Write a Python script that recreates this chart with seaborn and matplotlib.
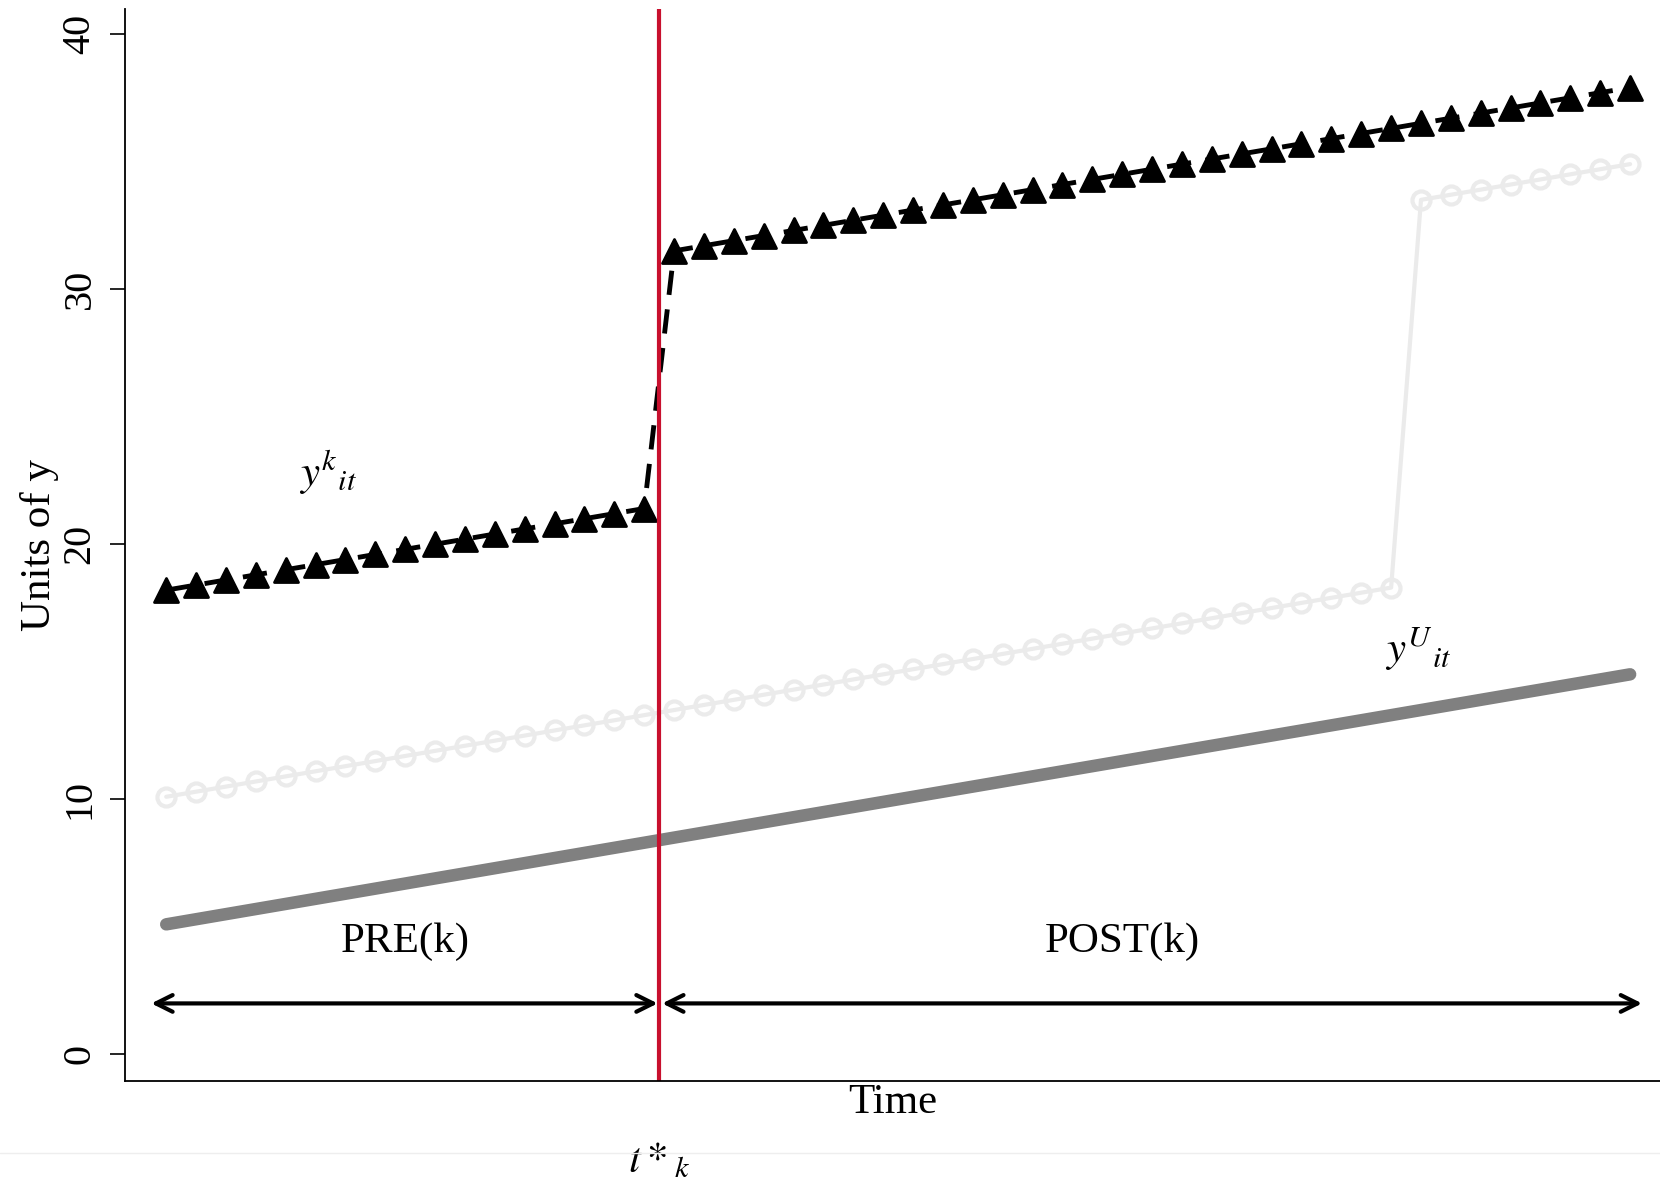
import matplotlib
matplotlib.use("Agg")
import matplotlib.pyplot as plt
import seaborn as sns
from matplotlib.lines import Line2D
from matplotlib.markers import MarkerStyle

# time index and series
time = list(range(50))
trend = [5.1, 5.3, 5.5, 5.7, 5.9, 6.1, 6.3, 6.5, 6.7, 6.9,
         7.1, 7.3, 7.5, 7.7, 7.9, 8.1, 8.3, 8.5, 8.7, 8.9,
         9.1, 9.3, 9.5, 9.7, 9.9, 10.1, 10.3, 10.5, 10.7, 10.9,
         11.1, 11.3, 11.5, 11.7, 11.9, 12.1, 12.3, 12.5, 12.7, 12.9,
         13.1, 13.3, 13.5, 13.7, 13.9, 14.1, 14.3, 14.5, 14.7, 14.9]
y_k = [18.2, 18.4, 18.6, 18.8, 19.0, 19.2, 19.4, 19.6, 19.8, 20.0,
       20.2, 20.4, 20.6, 20.8, 21.0, 21.2, 21.4,
       31.5, 31.7, 31.9, 32.1, 32.3, 32.5, 32.7, 32.9, 33.1,
       33.3, 33.5, 33.7, 33.9, 34.1, 34.3, 34.5, 34.7, 34.9,
       35.1, 35.3, 35.5, 35.7, 35.9, 36.1, 36.3, 36.5, 36.7,
       36.9, 37.1, 37.3, 37.5, 37.7, 37.9]
y_u = [10.1, 10.3, 10.5, 10.7, 10.9, 11.1, 11.3, 11.5, 11.7, 11.9,
       12.1, 12.3, 12.5, 12.7, 12.9, 13.1, 13.3, 13.5, 13.7, 13.9,
       14.1, 14.3, 14.5, 14.7, 14.9, 15.1, 15.3, 15.5, 15.7, 15.9,
       16.1, 16.3, 16.5, 16.7, 16.9, 17.1, 17.3, 17.5, 17.7, 17.9,
       18.1, 18.3,
       33.5, 33.7, 33.9, 34.1, 34.3, 34.5, 34.7, 34.9]
t_star = 16.5

sns.set_style("ticks")
plt.rcParams["font.family"] = ["Liberation Serif", "DejaVu Serif"]
plt.rcParams["mathtext.fontset"] = "stix"
for k in ["text.color", "axes.labelcolor", "xtick.color", "ytick.color",
          "axes.edgecolor"]:
    plt.rcParams[k] = "black"

fig = plt.figure(figsize=(16.6, 11.81), dpi=100)
ax = fig.add_axes([0.0753, 0.0847, 0.9247, 0.9081])

sns.lineplot(x=time, y=trend, ax=ax, color="#808080", linewidth=9)
sns.lineplot(x=time, y=y_u, ax=ax, color="#ebebeb", linewidth=3,
             marker="o", markersize=13, markerfacecolor="none",
             markeredgecolor="#ebebeb", markeredgewidth=3)
sns.lineplot(x=time, y=y_k, ax=ax, color="black", linewidth=3.5,
             linestyle=(0, (5, 3)),
             marker=MarkerStyle("^", joinstyle="round"), markersize=17,
             markeredgecolor="black", markerfacecolor="black",
             markeredgewidth=2)

ax.axvline(t_star, color="#c8102e", linewidth=3)

# PRE / POST arrows
arrow = dict(arrowstyle="<->", color="black", lw=3, mutation_scale=30,
             shrinkA=0, shrinkB=0)
ax.annotate("", xy=(-0.5, 2.0), xytext=(16.45, 2.0), arrowprops=arrow)
ax.annotate("", xy=(16.6, 2.0), xytext=(49.4, 2.0), arrowprops=arrow)
ax.text(8.0, 4.4, "PRE(k)", ha="center", va="center", fontsize=31)
ax.text(32.0, 4.4, "POST(k)", ha="center", va="center", fontsize=31)

ax.text(5.4, 22.8, r"$y^{k}{}_{it}$", ha="center", va="center", fontsize=31)
ax.text(41.9, 15.9, r"$y^{U}{}_{it}$", ha="center", va="center", fontsize=31)

ax.set_xlim(-1.38, 50.0)
ax.set_ylim(-1.04, 41.0)
ax.set_xticks([])
ax.set_yticks([0, 10, 20, 30, 40])
ax.tick_params(axis="y", length=11, width=1.2, labelsize=29, pad=8)
for lab in ax.get_yticklabels():
    lab.set_rotation(90)
    lab.set_va("center")
ax.set_ylabel("Units of y", fontsize=31, labelpad=2)
ax.set_xlabel("Time", fontsize=31, labelpad=2)
sns.despine(ax=ax)
for s in ["left", "bottom"]:
    ax.spines[s].set_linewidth(1.3)

# t*_k label under the red line
ax.text(t_star, -4.2, r"$t*_{k}$", ha="center", va="center", fontsize=31,
        clip_on=False)
fig.add_artist(Line2D([0, 1], [0.0235, 0.0235], color="#eeeeee", lw=1,
                      transform=fig.transFigure))

fig.savefig("out.png", dpi=100)
